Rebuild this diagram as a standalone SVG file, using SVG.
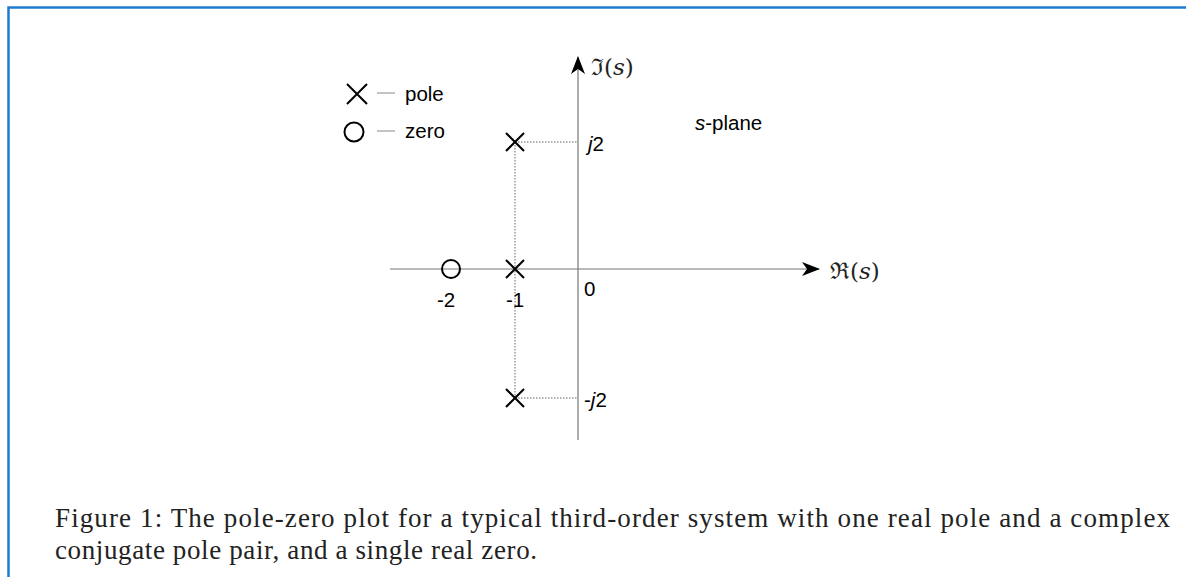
<svg xmlns="http://www.w3.org/2000/svg" width="1186" height="577" viewBox="0 0 1186 577">
<style>
.ax{stroke:#777;stroke-width:1.2;fill:none}
.dot{stroke:#666;stroke-width:1;stroke-dasharray:1.5 1.5;fill:none}
.sym{stroke:#000;stroke-width:2;fill:none}
.lbl{font-family:"Liberation Sans",Arial,sans-serif;font-size:20.5px;fill:#000}
.math{font-family:"DejaVu Serif",serif;font-size:23px;fill:#222}
.cap{font-family:"Liberation Serif","Times New Roman",serif;font-size:27px;fill:#222}
</style>
<defs>
<marker id="arr" viewBox="0 0 18 14" refX="17" refY="7" markerWidth="18" markerHeight="14" markerUnits="userSpaceOnUse" orient="auto">
<path d="M0,0 L18,7 L0,14 L5,7 Z" fill="#000"/>
</marker>
</defs>
<rect width="1186" height="577" fill="#fff"/>
<path d="M8.5,577 V7.5 H1186" stroke="#1f7bd0" stroke-width="2.5" fill="none"/>
<g id="connectors">
<line class="ax" x1="578" y1="440" x2="578" y2="57" marker-end="url(#arr)"/>
<line class="ax" x1="390" y1="269" x2="819" y2="269" marker-end="url(#arr)"/>
<line class="dot" x1="515" y1="142" x2="578" y2="142"/>
<line class="dot" x1="515" y1="398" x2="578" y2="398"/>
<line class="dot" x1="515" y1="142" x2="515" y2="398"/>
</g>
<g id="legend">
<path class="sym" d="M347,84 L367,104 M367,84 L347,104"/>
<line x1="377" y1="93" x2="395" y2="93" stroke="#888" stroke-width="1"/>
<text class="lbl" x="405" y="101">pole</text>
<circle class="sym" cx="354" cy="132" r="9.5"/>
<line x1="377" y1="131" x2="395" y2="131" stroke="#888" stroke-width="1"/>
<text class="lbl" x="405" y="138">zero</text>
</g>
<g id="pole-upper">
<path class="sym" d="M506,133 L524,151 M524,133 L506,151"/>
</g>
<g id="pole-real">
<path class="sym" d="M506,260 L524,278 M524,260 L506,278"/>
</g>
<g id="pole-lower">
<path class="sym" d="M506,389 L524,407 M524,389 L506,407"/>
</g>
<g id="zero">
<circle class="sym" cx="451" cy="269" r="9"/>
</g>
<g id="labels">
<text class="math" x="591" y="75">ℑ(<tspan font-style="italic">s</tspan>)</text>
<text class="math" x="830" y="279">ℜ(<tspan font-style="italic">s</tspan>)</text>
<text class="lbl" x="588" y="151"><tspan font-style="italic">j</tspan>2</text>
<text class="lbl" x="584" y="407">-<tspan font-style="italic">j</tspan>2</text>
<text class="lbl" x="584" y="296">0</text>
<text class="lbl" x="446" y="307" text-anchor="middle">-2</text>
<text class="lbl" x="515" y="307" text-anchor="middle">-1</text>
<text class="lbl" x="695" y="130"><tspan font-style="italic">s</tspan>-plane</text>
</g>
<g id="caption">
<text class="cap" x="55" y="527" textLength="1115" lengthAdjust="spacing">Figure 1: The pole-zero plot for a typical third-order system with one real pole and a complex</text>
<text class="cap" x="55" y="559" textLength="482" lengthAdjust="spacing">conjugate pole pair, and a single real zero.</text>
</g>
</svg>
